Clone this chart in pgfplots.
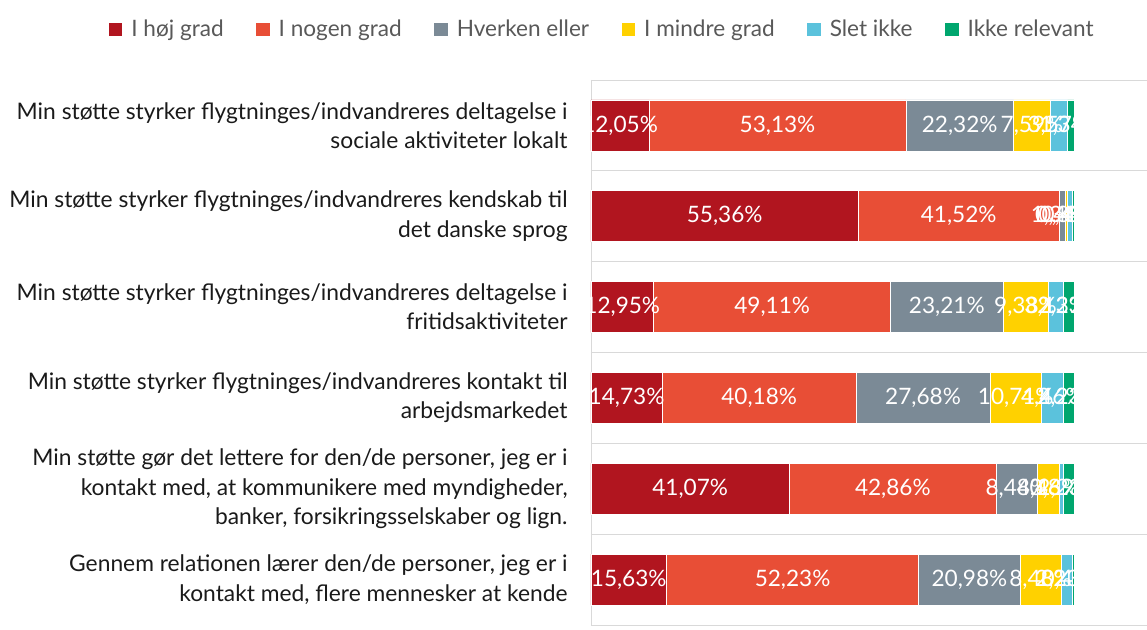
\documentclass[border=0pt]{standalone}
\usepackage{pgfplots}
\pgfplotsset{compat=1.18}
\usepackage{pgfplotstable}
\usepackage{fontspec}
\setmainfont{Lato}

\definecolor{hoej}{HTML}{B1151F}
\definecolor{nogen}{HTML}{E84E36}
\definecolor{hverken}{HTML}{7B8A96}
\definecolor{mindre}{HTML}{FFD100}
\definecolor{slet}{HTML}{5BC2DC}
\definecolor{ikke}{HTML}{00A66E}
\definecolor{legtxt}{HTML}{595959}
\definecolor{labtxt}{HTML}{1A1A1A}

% shares in percent, one row per statement (top to bottom)
\pgfplotstableread{
row hoej nogen hverken mindre slet ikke
0 12.05 53.13 22.32 7.59 3.57 1.34
1 55.36 41.52 1.34 0.45 0.89 0.45
2 12.95 49.11 23.21 9.38 3.13 2.23
3 14.73 40.18 27.68 10.71 4.46 2.23
4 41.07 42.86 8.48 4.46 0.89 2.23
5 15.63 52.23 20.98 8.48 2.23 0.45
}\data

\pgfplotsset{
  seg/.style={fill=#1, draw=white, line width=0.3pt,
    legend image code/.code={\fill[##1, draw=none] (0pt,-3.4pt) rectangle (6.8pt,3.4pt);}},
}

\begin{document}
\begin{tikzpicture}
\begin{axis}[
  name=ax,
  xbar stacked,
  x=2.415pt, y=45.42pt,
  xmin=0, xmax=115.1, ymin=-0.5, ymax=5.5,
  y dir=reverse,
  bar width=25.5pt,
  axis line style={draw=none},
  xtick={0}, xticklabels={}, xmajorgrids,
  ytick={0,...,5}, minor ytick={-0.5,0.5,...,5.5}, yminorgrids,
  major grid style={draw=black!15},
  minor grid style={draw=black!15},
  major tick length=0pt, minor tick length=0pt,
  yticklabels={
    {Min støtte styrker flygtninges/indvandreres deltagelse i\\sociale aktiviteter lokalt},
    {Min støtte styrker flygtninges/indvandreres kendskab til\\det danske sprog},
    {Min støtte styrker flygtninges/indvandreres deltagelse i\\fritidsaktiviteter},
    {Min støtte styrker flygtninges/indvandreres kontakt til\\arbejdsmarkedet},
    {Min støtte gør det lettere for den/de personer, jeg er i\\kontakt med, at kommunikere med myndigheder,\\banker, forsikringsselskaber og lign.},
    {Gennem relationen lærer den/de personer, jeg er i\\kontakt med, flere mennesker at kende}},
  yticklabel style={align=right, font=\fontsize{11.4}{14.6}\selectfont, text=labtxt,
    inner xsep=0pt, xshift=-11.5pt},
  legend columns=6,
  legend style={draw=none, at={(axis description cs:0.022,1.093)}, anchor=center,
    font=\fontsize{11.3}{13}\selectfont, text=legtxt,
    /tikz/every odd column/.append style={column sep=2.5pt},
    /tikz/every even column/.append style={column sep=14.2pt}},
  every axis plot/.append style={visualization depends on={rawx \as \rawx}},
  nodes near coords={\pgfmathprintnumber[fixed,fixed zerofill,precision=2,use comma,assume math mode=true]{\rawx}\%},
  every node near coord/.append style={anchor=center,
    text=white, font=\fontsize{11.3}{13}\selectfont},
]
\addplot[seg=hoej] table[x=hoej, y=row] {\data};
\addlegendentry{I høj grad}
\addplot[seg=nogen] table[x=nogen, y=row] {\data};
\addlegendentry{I nogen grad}
\addplot[seg=hverken] table[x=hverken, y=row] {\data};
\addlegendentry{Hverken eller}
\addplot[seg=mindre] table[x=mindre, y=row] {\data};
\addlegendentry{I mindre grad}
\addplot[seg=slet] table[x=slet, y=row] {\data};
\addlegendentry{Slet ikke}
\addplot[seg=ikke] table[x=ikke, y=row] {\data};
\addlegendentry{Ikke relevant}
\end{axis}
\pgfresetboundingbox
\path ([xshift=-295.5pt,yshift=-2pt]ax.south west) rectangle ([xshift=278pt,yshift=40pt]ax.north west);
\end{tikzpicture}
\end{document}
